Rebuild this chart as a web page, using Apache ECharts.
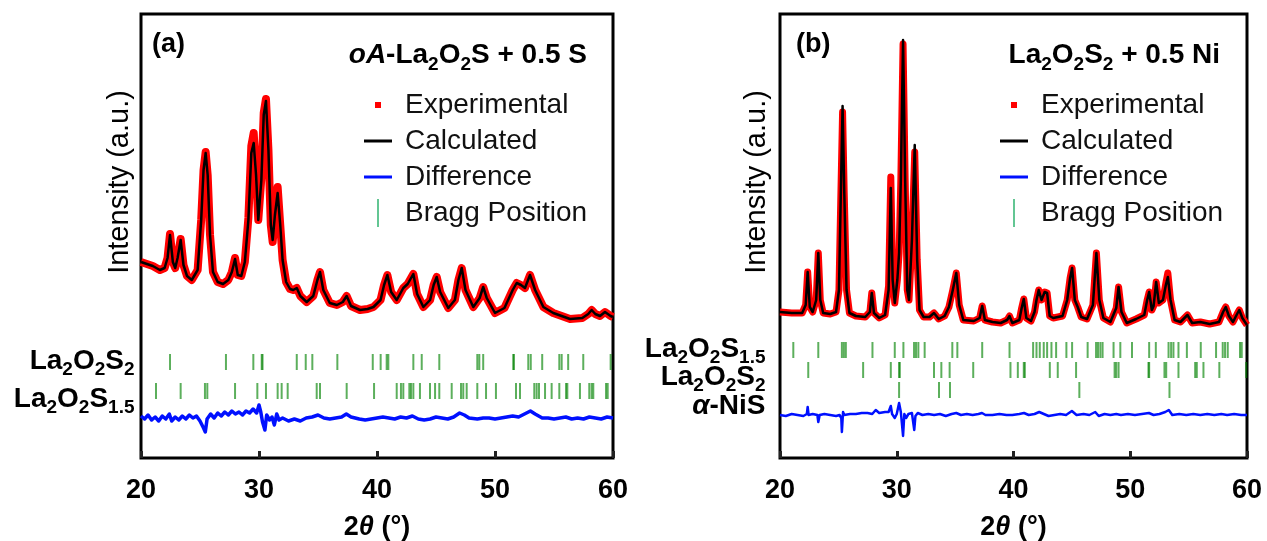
<!DOCTYPE html>
<html><head><meta charset="utf-8">
<script src="https://cdn.jsdelivr.net/npm/echarts@6/dist/echarts.min.js"></script>
<style>html,body{margin:0;padding:0;background:#fff}#c{width:1267px;height:541px}</style>
</head><body><div id="c"></div>
<script>
// ---------- DATA ----------
const xTicks = [20, 30, 40, 50, 60];
const legendNames = ['Experimental', 'Calculated', 'Difference', 'Bragg Position'];

// Panel (a): oA-La2O2S + 0.5 S   [2theta, intensity (a.u.)]
const obsA = [[20.0,196],[20.5,194],[21.0,192],[21.6,188],[22.0,190],[22.25,200],[22.46,224],[22.7,196],[22.9,190],[23.1,200],[23.36,219],[23.6,193],[23.9,182],[24.3,178],[24.8,188],[25.1,238],[25.3,288],[25.48,306],[25.65,283],[25.85,223],[26.1,186],[26.5,176],[26.95,174],[27.4,178],[27.7,186],[27.97,200],[28.2,183],[28.5,182],[28.8,196],[29.1,240],[29.35,312],[29.55,325],[29.75,285],[29.94,238],[30.2,280],[30.4,345],[30.59,359],[30.8,308],[31.0,233],[31.16,216],[31.35,243],[31.58,271],[31.8,233],[32.0,198],[32.3,176],[32.63,169],[32.9,168],[33.2,170],[33.5,162],[34.04,156],[34.6,162],[34.95,178],[35.17,186],[35.45,168],[36.0,155],[36.6,153],[37.1,156],[37.43,162],[37.8,152],[38.56,148],[39.2,149],[39.7,151],[40.3,158],[40.6,173],[40.88,183],[41.2,166],[41.67,158],[42.23,170],[42.6,174],[43.08,184],[43.4,164],[43.93,151],[44.5,158],[44.8,173],[45.06,181],[45.35,166],[46.04,150],[46.6,158],[46.9,178],[47.18,190],[47.5,168],[48.16,151],[48.7,160],[49.0,171],[49.3,160],[50.0,145],[50.8,150],[51.5,168],[51.84,175],[52.2,173],[52.54,170],[52.97,183],[53.4,168],[54.1,151],[54.94,145],[56.36,139],[57.4,140],[57.9,144],[58.19,148],[58.5,144],[58.9,142],[59.32,146],[59.8,142],[60.0,141]];
const calcA = [[20.0,196],[20.5,194],[21.0,192],[21.6,188],[22.0,190],[22.25,200],[22.46,223],[22.7,196],[22.9,190],[23.1,200],[23.36,218],[23.6,193],[23.9,182],[24.3,178],[24.8,188],[25.1,238],[25.3,288],[25.48,305],[25.65,283],[25.85,223],[26.1,186],[26.5,176],[26.95,174],[27.4,178],[27.7,186],[27.97,199],[28.2,183],[28.5,182],[28.8,196],[29.1,238],[29.35,305],[29.55,315],[29.75,283],[29.94,238],[30.2,278],[30.4,343],[30.59,357],[30.8,308],[31.0,233],[31.16,218],[31.35,243],[31.58,265],[31.8,233],[32.0,198],[32.3,176],[32.63,169],[32.9,168],[33.2,170],[33.5,162],[34.04,156],[34.6,162],[34.95,178],[35.17,186],[35.45,168],[36.0,155],[36.6,153],[37.1,156],[37.43,162],[37.8,152],[38.56,148],[39.2,149],[39.7,151],[40.3,158],[40.6,173],[40.88,183],[41.2,166],[41.67,158],[42.23,170],[42.6,174],[43.08,184],[43.4,164],[43.93,151],[44.5,158],[44.8,173],[45.06,181],[45.35,166],[46.04,150],[46.6,158],[46.9,178],[47.18,190],[47.5,168],[48.16,151],[48.7,160],[49.0,171],[49.3,160],[50.0,145],[50.8,150],[51.5,168],[51.84,175],[52.2,173],[52.54,170],[52.97,183],[53.4,168],[54.1,151],[54.94,145],[56.36,139],[57.4,140],[57.9,144],[58.19,148],[58.5,144],[58.9,142],[59.32,146],[59.8,142],[60.0,141]];
const diffA = [[20.0,42],[20.3,39],[20.6,43],[20.9,38],[21.2,41],[21.5,37],[21.8,42],[22.1,39],[22.4,44],[22.6,37],[22.9,41],[23.2,38],[23.5,42],[23.8,39],[24.1,43],[24.4,40],[24.7,42],[25.0,37],[25.3,30],[25.45,26],[25.6,39],[25.9,44],[26.2,40],[26.5,45],[26.8,42],[27.1,46],[27.4,43],[27.7,47],[28.0,44],[28.3,46],[28.6,43],[28.9,47],[29.2,45],[29.5,49],[29.8,45],[30.0,53],[30.15,46],[30.3,36],[30.5,28],[30.65,43],[30.9,38],[31.1,41],[31.3,33],[31.5,44],[31.7,38],[32.0,40],[32.5,37],[33.0,39],[33.5,37],[34.0,40],[34.5,41],[35.0,43],[35.5,40],[36.0,39],[36.5,40],[37.0,41],[37.4,44],[37.8,41],[38.5,39],[39.0,38],[39.5,39],[40.0,40],[40.5,41],[41.0,40],[41.5,39],[42.0,41],[42.5,40],[43.0,42],[43.5,39],[44.0,38],[44.5,39],[45.0,41],[45.5,40],[46.0,39],[46.5,41],[47.0,45],[47.4,43],[47.8,40],[48.5,39],[49.0,40],[49.5,40],[50.0,39],[50.5,40],[51.0,41],[51.5,42],[52.0,41],[52.5,44],[53.0,47],[53.4,44],[54.0,40],[54.5,40],[55.0,39],[55.5,40],[56.0,41],[56.5,39],[57.0,40],[57.5,39],[58.0,41],[58.5,40],[59.0,39],[59.5,41],[60.0,40]];
const braggA_S2 = [22.46,27.2,29.52,30.23,30.3,33.2,33.96,34.52,36.64,39.64,40.31,40.82,40.96,43.08,43.79,45.28,48.5,48.67,49.0,51.55,51.6,52.82,53.03,54.0,55.45,55.65,56.2,57.48,59.8];
const braggA_S15 = [21.27,23.36,25.42,25.62,27.97,29.86,30.59,31.58,31.92,32.43,34.89,35.17,37.43,39.75,41.67,42.03,42.23,42.74,42.88,43.08,43.64,44.49,44.92,45.28,46.33,47.12,47.31,47.6,48.5,49.24,50.08,51.78,52.12,53.33,53.53,53.73,54.24,54.8,55.45,56.02,56.13,57.2,57.99,58.19,58.33,59.41,59.55];

// Panel (b): La2O2S2 + 0.5 Ni
const obsB = [[20.0,146],[21.0,145],[21.9,145],[22.2,153],[22.37,186],[22.55,151],[22.8,146],[23.1,158],[23.28,205],[23.45,158],[23.7,145],[24.3,144],[24.8,146],[25.05,168],[25.2,255],[25.36,346],[25.5,265],[25.7,168],[25.95,145],[26.5,142],[27.3,141],[27.7,146],[27.86,165],[28.05,145],[28.5,140],[29.0,143],[29.3,172],[29.49,281],[29.65,182],[29.83,155],[30.05,178],[30.2,205],[30.35,278],[30.54,414],[30.72,278],[30.9,168],[31.05,158],[31.3,218],[31.54,306],[31.75,198],[31.95,148],[32.3,141],[32.8,141],[33.19,145],[33.6,139],[34.1,142],[34.47,151],[34.8,168],[35.1,185],[35.35,153],[35.7,138],[36.6,137],[37.1,140],[37.32,152],[37.55,138],[38.2,136],[38.9,135],[39.45,138],[39.66,142],[39.9,135],[40.5,138],[40.7,150],[40.88,159],[41.1,140],[41.5,137],[41.8,146],[41.97,158],[42.16,168],[42.4,158],[42.67,166],[42.88,165],[43.1,142],[43.4,140],[44.2,142],[44.6,158],[44.85,180],[45.02,190],[45.25,158],[45.5,151],[45.8,141],[46.3,139],[46.8,153],[47.1,205],[47.35,158],[47.7,140],[48.3,136],[48.8,150],[49.0,171],[49.25,146],[49.7,135],[50.5,139],[51.2,143],[51.45,158],[51.62,166],[51.85,148],[52.0,152],[52.22,176],[52.45,155],[52.8,158],[53.05,175],[53.22,185],[53.45,158],[53.8,138],[54.3,136],[54.9,143],[55.3,135],[56.0,136],[56.8,134],[57.6,136],[57.95,146],[58.18,151],[58.45,142],[58.8,136],[59.15,144],[59.34,148],[59.6,140],[60.0,133]];
const calcB = [[20.0,146],[21.0,145],[21.9,145],[22.2,153],[22.37,186],[22.55,151],[22.8,146],[23.1,158],[23.28,205],[23.45,158],[23.7,145],[24.3,144],[24.8,146],[25.05,168],[25.2,258],[25.36,352],[25.5,268],[25.7,168],[25.95,145],[26.5,142],[27.3,141],[27.7,146],[27.86,165],[28.05,145],[28.5,140],[29.0,143],[29.3,168],[29.49,270],[29.65,178],[29.83,155],[30.05,178],[30.2,205],[30.35,278],[30.54,418],[30.72,278],[30.9,168],[31.05,158],[31.3,218],[31.54,313],[31.75,198],[31.95,148],[32.3,141],[32.8,141],[33.19,145],[33.6,139],[34.1,142],[34.47,151],[34.8,168],[35.1,185],[35.35,153],[35.7,138],[36.6,137],[37.1,140],[37.32,152],[37.55,138],[38.2,136],[38.9,135],[39.45,138],[39.66,142],[39.9,135],[40.5,138],[40.7,150],[40.88,159],[41.1,140],[41.5,137],[41.8,146],[41.97,158],[42.16,168],[42.4,158],[42.67,166],[42.88,165],[43.1,142],[43.4,140],[44.2,142],[44.6,158],[44.85,180],[45.02,190],[45.25,158],[45.5,151],[45.8,141],[46.3,139],[46.8,153],[47.1,205],[47.35,158],[47.7,140],[48.3,136],[48.8,150],[49.0,171],[49.25,146],[49.7,135],[50.5,139],[51.2,143],[51.45,158],[51.62,166],[51.85,148],[52.0,152],[52.22,176],[52.45,155],[52.8,158],[53.05,173],[53.22,181],[53.45,158],[53.8,138],[54.3,136],[54.9,143],[55.3,135],[56.0,136],[56.8,134],[57.6,136],[57.95,146],[58.18,151],[58.45,142],[58.8,136],[59.15,144],[59.34,148],[59.6,140],[60.0,133]];
const diffB = [[20.0,43],[20.5,42],[21.0,44],[21.5,43],[22.0,42],[22.3,44],[22.37,51],[22.45,43],[22.8,44],[23.2,43],[23.28,36],[23.4,43],[23.8,44],[24.3,43],[24.8,42],[25.1,43],[25.25,40],[25.3,26],[25.4,46],[25.5,43],[26.0,44],[26.5,44],[27.0,45],[27.5,45],[27.9,44],[28.2,48],[28.5,45],[29.0,46],[29.3,46],[29.49,52],[29.6,44],[29.83,40],[30.0,44],[30.2,55],[30.35,46],[30.54,22],[30.65,44],[30.8,40],[31.0,44],[31.3,45],[31.5,28],[31.6,42],[31.8,45],[32.2,43],[32.7,44],[33.2,43],[33.7,44],[34.2,42],[34.7,44],[35.1,45],[35.5,43],[36.0,44],[36.5,43],[37.0,44],[37.3,45],[37.6,43],[38.2,43],[38.8,44],[39.4,43],[39.9,43],[40.5,44],[40.9,45],[41.3,43],[41.8,44],[42.2,46],[42.6,44],[43.0,42],[43.5,43],[44.0,44],[44.5,43],[45.0,47],[45.4,43],[46.0,44],[46.5,43],[47.0,46],[47.3,42],[47.8,44],[48.3,43],[48.8,44],[49.2,43],[49.8,44],[50.4,43],[51.0,44],[51.6,45],[52.0,43],[52.5,44],[53.0,46],[53.3,48],[53.6,43],[54.2,44],[54.8,43],[55.4,44],[56.0,43],[56.6,44],[57.2,43],[57.8,44],[58.3,43],[58.9,44],[59.5,43],[60.0,43]];
const braggB_S15 = [21.14,23.28,25.3,25.47,25.64,27.92,29.83,30.57,31.48,31.65,31.85,32.39,34.76,35.19,37.32,39.66,41.68,41.97,42.25,42.59,42.88,43.25,43.65,44.53,45.02,46.35,47.07,47.24,47.44,47.63,48.57,49.15,50.15,51.62,52.19,53.28,53.5,53.7,54.13,54.85,56.04,57.35,57.92,58.12,58.35,59.4,59.55];
const braggB_S2 = [22.42,27.12,29.49,30.2,30.26,33.19,33.82,34.53,36.55,39.74,40.37,40.88,40.97,43.11,43.79,45.36,48.66,48.8,49.0,51.56,51.62,52.93,53.08,54.13,55.56,55.7,56.27,57.63,59.93];
const braggB_NiS = [30.2,33.62,34.56,45.64,53.36];

// Bragg rows (intensity level of each tick row) and phase labels
const rowsA = {S2: 96, S15: 67};
const rowsB = {S15: 108, S2: 88, NiS: 68};
const phaseLabelsA = [{text: '{m|La}{s|2}{m|O}{s|2}{m|S}{s|2}', y: 97}, {text: '{m|La}{s|2}{m|O}{s|2}{m|S}{s|1.5}', y: 59}];
const phaseLabelsB = [{text: '{m|La}{s|2}{m|O}{s|2}{m|S}{s|1.5}', y: 109}, {text: '{m|La}{s|2}{m|O}{s|2}{m|S}{s|2}', y: 81}, {text: '{it|α}{m|-NiS}', y: 52}];

// ---------- STYLE ----------
const FONT = '"Liberation Sans", Arial, sans-serif';
const richTxt = {
  m: {fontSize: 28, fontWeight: 'bold', fontFamily: FONT, color: '#000'},
  it: {fontSize: 28, fontWeight: 'bold', fontStyle: 'italic', fontFamily: FONT, color: '#000'},
  s: {fontSize: 19, fontWeight: 'bold', fontFamily: FONT, color: '#000', padding: [18, 0, 0, 0]}
};
const RED = '#ff0000', BLUE = '#0010ff', GREEN = 'rgba(0,130,0,0.8)';
const ICON_SQ = 'path://M0,0 M36,28 M11,11 h6 v6 h-6 z';
const ICON_LN = 'path://M0,0 M36,28 M0,12.5 h28 v3 h-28 z';
const ICON_BR = 'path://M0,0 M36,28 M13,0 h2 v28 h-2 z';

function legendCfg(left) {
  return {
    orient: 'vertical', left: left, top: 91, padding: 0,
    itemWidth: 36, itemHeight: 28, itemGap: 8,
    selectedMode: false,
    itemStyle: {borderWidth: 0},
    textStyle: {fontSize: 28, fontFamily: FONT, color: '#111'},
    data: [
      {name: legendNames[0], icon: ICON_SQ},
      {name: legendNames[1], icon: ICON_LN},
      {name: legendNames[2], icon: ICON_LN},
      {name: legendNames[3], icon: ICON_BR, itemStyle: {color: '#3cb878'}}
    ]
  };
}
function xAxisCfg(idx) {
  return {
    type: 'value', gridIndex: idx, min: 20, max: 60, interval: 10,
    axisLine: {show: false},
    axisTick: {show: true, inside: true, length: 7, lineStyle: {color: '#222', width: 3}},
    splitLine: {show: false},
    axisLabel: {margin: 19, fontSize: 27, fontWeight: 'bold', fontFamily: FONT, color: '#000',
      customValues: xTicks},
    name: '2{it|θ} (°)', nameLocation: 'middle', nameGap: 56,
    nameTextStyle: {fontSize: 27, fontWeight: 'bold', fontFamily: FONT, color: '#000',
      rich: {it: {fontSize: 27, fontWeight: 'bold', fontStyle: 'italic', fontFamily: FONT, color: '#000'}}}
  };
}
function yAxisCfg(idx) {
  return {type: 'value', gridIndex: idx, min: 0, max: 444, show: false};
}
function line(name, data, idx, color, width, z) {
  return {type: 'line', name: name, data: data, xAxisIndex: idx, yAxisIndex: idx,
    showSymbol: false, symbol: 'none', z: z, silent: true,
    lineStyle: {color: color, width: width, join: 'round'}, itemStyle: {color: color}};
}
function bragg(list, row, idx) {
  return {type: 'scatter', name: legendNames[3], xAxisIndex: idx, yAxisIndex: idx,
    data: list.map(t => [t, row]), symbol: 'rect', symbolSize: [2, 16], z: 4, silent: true,
    itemStyle: {color: GREEN}};
}
function phaseLabels(list, idx) {
  return list.map((p, i) => ({type: 'scatter', name: 'phase' + idx + i, xAxisIndex: idx, yAxisIndex: idx,
    data: [[20, p.y]], symbolSize: 1, itemStyle: {color: 'rgba(0,0,0,0)'}, silent: true, z: 6, clip: false,
    label: {show: true, position: 'left', distance: idx === 0 ? 6 : 14, formatter: p.text, rich: richTxt,
      color: '#000', opacity: 1, textBorderWidth: 0}}));
}

const gridCommon = {top: 14, height: 444, show: true, borderColor: '#000', borderWidth: 3,
  containLabel: false, outerBoundsMode: 'none'};

const option = {
  animation: false,
  backgroundColor: '#fff',
  title: [
    {text: '(a)', left: 152, top: 31, padding: 0, textStyle: {fontSize: 27, fontWeight: 'bold', fontFamily: FONT, color: '#000'}},
    {text: '{it|oA}{m|-La}{s|2}{m|O}{s|2}{m|S + 0.5 S}', right: 680, top: 37, padding: 0, textStyle: {rich: richTxt}},
    {text: '(b)', left: 796, top: 31, padding: 0, textStyle: {fontSize: 27, fontWeight: 'bold', fontFamily: FONT, color: '#000'}},
    {text: '{m|La}{s|2}{m|O}{s|2}{m|S}{s|2}{m| + 0.5 Ni}', right: 47, top: 37, padding: 0, textStyle: {rich: richTxt}}
  ],
  legend: [legendCfg(364), legendCfg(1000)],
  grid: [
    Object.assign({left: 141, width: 472}, gridCommon),
    Object.assign({left: 780, width: 467}, gridCommon)
  ],
  xAxis: [xAxisCfg(0), xAxisCfg(1)],
  yAxis: [yAxisCfg(0), yAxisCfg(1)],
  graphic: [
    {type: 'text', x: 120, y: 182, rotation: Math.PI / 2, style: {text: 'Intensity (a.u.)', font: '29px ' + FONT, fill: '#000', align: 'center', verticalAlign: 'middle'}},
    {type: 'text', x: 757, y: 182, rotation: Math.PI / 2, style: {text: 'Intensity (a.u.)', font: '29px ' + FONT, fill: '#000', align: 'center', verticalAlign: 'middle'}}
  ],
  series: [
    line(legendNames[0], obsA, 0, RED, 8, 2),
    line(legendNames[1], calcA, 0, '#000', 2.5, 3),
    line(legendNames[2], diffA, 0, BLUE, 3.5, 3),
    bragg(braggA_S2, rowsA.S2, 0),
    bragg(braggA_S15, rowsA.S15, 0),
    ...phaseLabels(phaseLabelsA, 0),
    line(legendNames[0], obsB, 1, RED, 7, 2),
    line(legendNames[1], calcB, 1, '#000', 2.5, 3),
    line(legendNames[2], diffB, 1, BLUE, 2.5, 3),
    bragg(braggB_S15, rowsB.S15, 1),
    bragg(braggB_S2, rowsB.S2, 1),
    bragg(braggB_NiS, rowsB.NiS, 1),
    ...phaseLabels(phaseLabelsB, 1)
  ]
};
const chart = echarts.init(document.getElementById('c'), null, {renderer: 'canvas'});
chart.setOption(option);
</script>
</body></html>
